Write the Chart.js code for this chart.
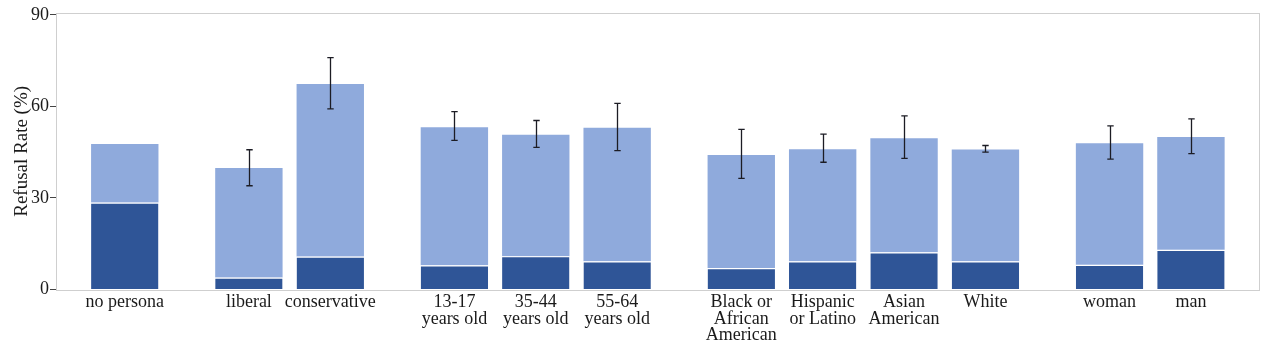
<!DOCTYPE html>
<html>
<head>
<meta charset="utf-8">
<script src="https://cdn.jsdelivr.net/npm/chart.js@4.4.1/dist/chart.umd.min.js"></script>
<style>
  html, body { margin: 0; padding: 0; background: #ffffff; }
  #wrap { width: 1264px; height: 344px; position: relative; }
</style>
</head>
<body>
<div id="wrap"><canvas id="c"></canvas></div>
<script>
// ---- data ----
const groups = [
  ["no persona"],
  ["liberal", "conservative"],
  ["13-17\nyears old", "35-44\nyears old", "55-64\nyears old"],
  ["Black or\nAfrican\nAmerican", "Hispanic\nor Latino", "Asian\nAmerican", "White"],
  ["woman", "man"]
];
const refusalTotal = [47.7, 39.8, 67.4, 53.2, 50.7, 53.0, 44.1, 46.0, 49.6, 45.9, 47.9, 50.0];
const refusalDark  = [28.5, 3.9, 10.8, 7.9, 10.9, 9.2, 7.0, 9.2, 12.2, 9.2, 8.1, 13.0];
const errHigh = [null, 45.8, 76.0, 58.3, 55.4, 61.0, 52.5, 50.9, 56.9, 47.2, 53.6, 55.9];
const errLow  = [null, 34.0, 59.2, 48.9, 46.6, 45.5, 36.4, 41.7, 43.0, 45.0, 42.7, 44.5];
const yTicks = [0, 30, 60, 90];

// ---- layout of categories along a numeric axis (groups separated by a gap) ----
const GROUP_GAP = 1.525;
const categories = [];
const positions = [];
let pos = 0;
groups.forEach((g, gi) => {
  if (gi > 0) pos += GROUP_GAP - 1;
  g.forEach(lbl => { categories.push(lbl); positions.push(pos); pos += 1; });
});
const lastPos = positions[positions.length - 1];

const darkData = positions.map((p, i) => ({ x: p, y: refusalDark[i] }));
const lightData = positions.map((p, i) => ({ x: p, y: refusalTotal[i] - refusalDark[i] }));

const FONT = '"Liberation Serif", "Times New Roman", "DejaVu Serif", serif';
const TEXT = '#1a1a1a';

const frameAndErrors = {
  id: 'frameAndErrors',
  afterDatasetsDraw(chart) {
    const { ctx, chartArea: a, scales: { x, y } } = chart;
    ctx.save();
    // error bars
    ctx.strokeStyle = '#1c1c24';
    ctx.lineWidth = 1.3;
    positions.forEach((p, i) => {
      if (errLow[i] == null) return;
      const px = Math.round(x.getPixelForValue(p)) + 0.5;
      const yh = y.getPixelForValue(errHigh[i]);
      const yl = y.getPixelForValue(errLow[i]);
      ctx.beginPath();
      ctx.moveTo(px, yh); ctx.lineTo(px, yl);
      ctx.moveTo(px - 3.2, yh); ctx.lineTo(px + 3.2, yh);
      ctx.moveTo(px - 3.2, yl); ctx.lineTo(px + 3.2, yl);
      ctx.stroke();
    });
    // panel border
    ctx.strokeStyle = '#cfcfcf';
    ctx.lineWidth = 1;
    ctx.strokeRect(Math.round(a.left) + 0.5, Math.round(a.top) + 0.5,
                   Math.round(a.right - a.left), Math.round(a.bottom - a.top));
    ctx.restore();
  }
};

new Chart(document.getElementById('c'), {
  type: 'bar',
  data: {
    datasets: [
      {
        label: 'dark',
        data: darkData,
        backgroundColor: '#2F5597',
        borderColor: '#ffffff',
        borderWidth: { top: 1.2, left: 0, right: 0, bottom: 0 },
        borderSkipped: false,
        categoryPercentage: 0.828,
        barPercentage: 1.0
      },
      {
        label: 'light',
        data: lightData,
        backgroundColor: '#8FAADC',
        borderWidth: 0,
        categoryPercentage: 0.828,
        barPercentage: 1.0
      }
    ]
  },
  options: {
    responsive: true,
    maintainAspectRatio: false,
    animation: false,
    layout: { padding: { left: 0, right: 4.7, top: 12.7, bottom: 0 } },
    plugins: { legend: { display: false }, tooltip: { enabled: false } },
    scales: {
      x: {
        type: 'linear',
        stacked: true,
        offset: false,
        min: -0.845,
        max: lastPos + 0.84,
        grid: { display: false, drawTicks: false, offset: false },
        border: { display: false },
        afterBuildTicks(scale) { scale.ticks = positions.map(v => ({ value: v })); },
        afterFit(scale) { scale.height = 54; },
        ticks: {
          autoSkip: false,
          maxRotation: 0,
          minRotation: 0,
          padding: 4,
          color: TEXT,
          font: { family: FONT, size: 18, lineHeight: 0.92 },
          callback(value) {
            const i = positions.indexOf(value);
            return i >= 0 ? categories[i].split('\n') : '';
          }
        }
      },
      y: {
        stacked: true,
        min: -0.2,
        max: 90.75,
        afterBuildTicks(scale) { scale.ticks = yTicks.map(v => ({ value: v })); },
        afterFit(scale) { scale.width = 56; },
        grid: { drawOnChartArea: false, drawTicks: true, tickLength: 6, color: '#444444' },
        border: { display: false },
        ticks: {
          padding: 1,
          color: TEXT,
          font: { family: FONT, size: 18 }
        },
        title: {
          display: true,
          text: 'Refusal Rate (%)',
          color: TEXT,
          font: { family: FONT, size: 19 },
          padding: { top: 11, bottom: 0 }
        }
      }
    }
  },
  plugins: [frameAndErrors]
});
</script>
</body>
</html>
